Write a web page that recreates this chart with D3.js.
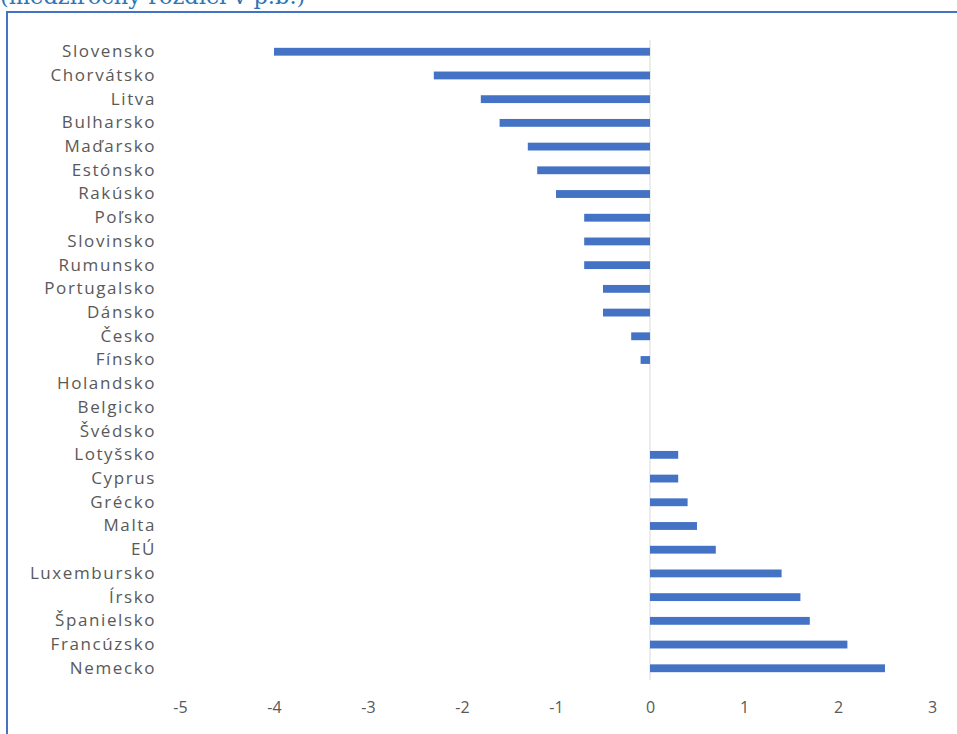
<!DOCTYPE html>
<html>
<head>
<meta charset="utf-8">
<script src="https://cdn.jsdelivr.net/npm/d3@7"></script>
<style>
  html, body { margin: 0; padding: 0; background: #fff; overflow: hidden; }
  svg { display: block; }
</style>
</head>
<body>
<svg id="chart" width="957" height="734"></svg>
<script>
// Countries, top to bottom
const countries = ["Slovensko", "Chorvátsko", "Litva", "Bulharsko", "Maďarsko", "Estónsko",
  "Rakúsko", "Poľsko", "Slovinsko", "Rumunsko", "Portugalsko", "Dánsko", "Česko", "Fínsko",
  "Holandsko", "Belgicko", "Švédsko", "Lotyšsko", "Cyprus", "Grécko", "Malta", "EÚ",
  "Luxembursko", "Írsko", "Španielsko", "Francúzsko", "Nemecko"];
// Year-on-year difference in percentage points
const values = [-4.0, -2.3, -1.8, -1.6, -1.3, -1.2, -1.0, -0.7, -0.7, -0.7, -0.5, -0.5, -0.2, -0.1,
  0, 0, 0, 0.3, 0.3, 0.4, 0.5, 0.7, 1.4, 1.6, 1.7, 2.1, 2.5];
const xTicks = [-5, -4, -3, -2, -1, 0, 1, 2, 3];
const subtitle = "(medziročný rozdiel v p.b.)";

const rows = countries.map((c, i) => ({ country: c, value: values[i] }));

const svg = d3.select("#chart");

// Subtitle line running off the top edge, above the frame
svg.append("text")
  .attr("x", 0).attr("y", 4)
  .attr("font-family", "'DejaVu Serif', 'Liberation Serif', serif")
  .attr("font-size", 22.5)
  .attr("fill", "#2E75B6")
  .text(subtitle);

// Chart frame
svg.append("rect")
  .attr("x", 7).attr("y", 12)
  .attr("width", 980).attr("height", 760)
  .attr("fill", "#fff")
  .attr("stroke", "#4472C4")
  .attr("stroke-width", 2);

const x = d3.scaleLinear().domain([-5, 3]).range([180, 932]);
const y = d3.scaleBand().domain(countries).range([40, 680]).paddingInner(0.67).paddingOuter(0.33);

// Zero line
svg.append("line")
  .attr("x1", x(0)).attr("x2", x(0))
  .attr("y1", 40).attr("y2", 680)
  .attr("stroke", "#d9d9d9").attr("stroke-width", 1);

// Bars
svg.append("g").selectAll("rect")
  .data(rows.filter(d => d.value !== 0))
  .join("rect")
  .attr("x", d => x(Math.min(0, d.value)))
  .attr("y", d => y(d.country))
  .attr("width", d => Math.abs(x(d.value) - x(0)))
  .attr("height", y.bandwidth())
  .attr("fill", "#4472C4");

// Category labels
const yAxis = d3.axisLeft(y).tickSize(0).tickPadding(0);
const gy = svg.append("g").attr("transform", "translate(156,0)").call(yAxis);
gy.select(".domain").remove();
gy.selectAll("text")
  .attr("font-family", "'Open Sans', 'Noto Sans', sans-serif")
  .attr("font-size", 17)
  .attr("letter-spacing", 1.6)
  .attr("fill", "#595959");

// Value axis labels
const xAxis = d3.axisBottom(x).tickValues(xTicks).tickSize(0).tickPadding(0).tickFormat(d3.format("d"));
const gx = svg.append("g").attr("transform", "translate(0,702)").call(xAxis);
gx.select(".domain").remove();
gx.selectAll("text")
  .attr("font-family", "'Open Sans', 'Noto Sans', sans-serif")
  .attr("font-size", 16)
  .attr("fill", "#595959")
  .text(d => d < 0 ? "-" + Math.abs(d) : d);
</script>
</body>
</html>
